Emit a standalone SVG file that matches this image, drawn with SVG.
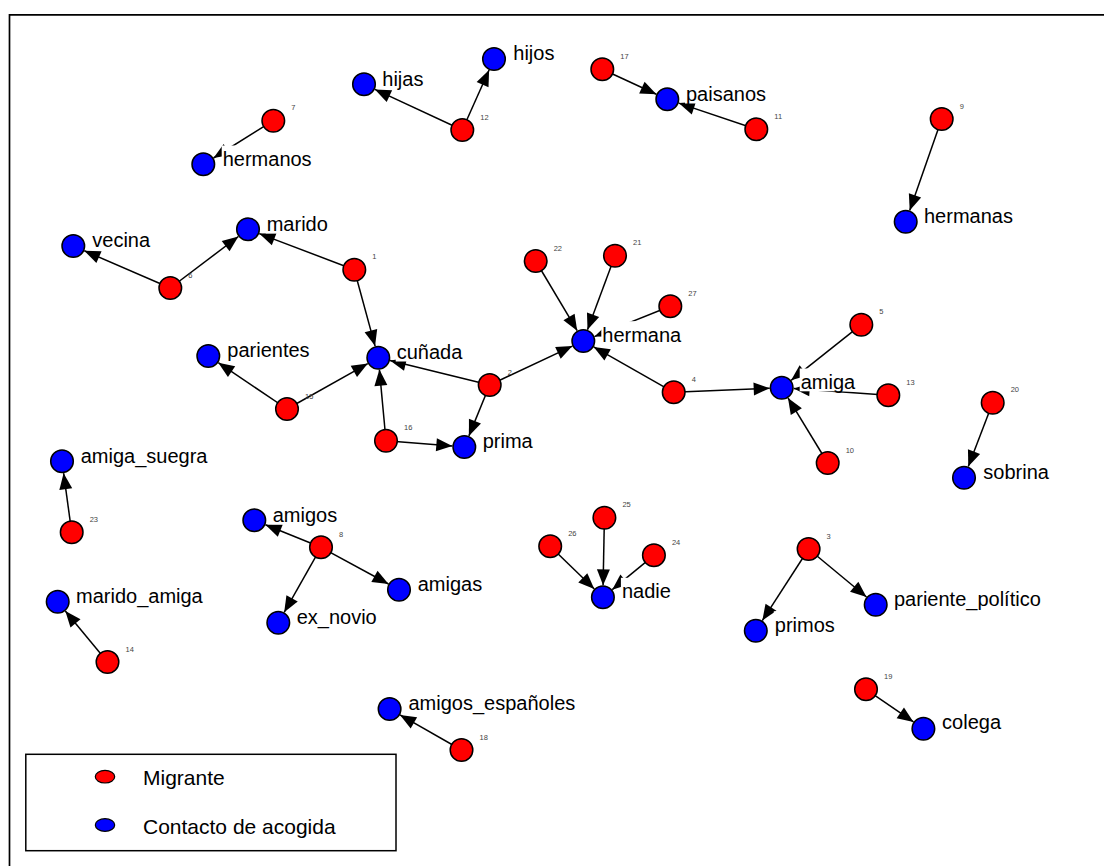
<svg xmlns="http://www.w3.org/2000/svg" width="1104" height="866" viewBox="0 0 1104 866">
<style>
.m{fill:#ff0000;stroke:#000;stroke-width:1.5}
.c{fill:#0000ff;stroke:#000;stroke-width:1.5}
.n{font-family:"Liberation Sans",Arial,sans-serif;font-size:7.5px;fill:#444}
.t{font-family:"Liberation Sans",Arial,sans-serif;font-size:20px;fill:#000}
.bx{fill:#fff;stroke:none}
.lg{font-family:"Liberation Sans",Arial,sans-serif;font-size:21px;fill:#000}
#edges line{stroke:#000;stroke-width:1.5;marker-end:url(#arr)}
</style>
<defs>
<marker id="arr" markerUnits="userSpaceOnUse" markerWidth="16" markerHeight="13" refX="16" refY="6.5" orient="auto" overflow="visible"><path d="M0,0L16,6.5L0,13z" fill="#000"/></marker>
</defs>
<rect width="1104" height="866" fill="#fff"/>
<path d="M9.5,866V14.8H1104" fill="none" stroke="#000" stroke-width="1.7"/>
<g id="edges">
<line x1="273.3" y1="120.7" x2="213.5" y2="158.0"/>
<line x1="462.3" y1="130" x2="374.9" y2="89.4"/>
<line x1="462.3" y1="130" x2="489.1" y2="70.0"/>
<line x1="602.3" y1="69.3" x2="656.4" y2="94.3"/>
<line x1="756.3" y1="129.3" x2="678.7" y2="103.1"/>
<line x1="941.7" y1="119" x2="909.7" y2="210.4"/>
<line x1="170.3" y1="288" x2="84.3" y2="250.8"/>
<line x1="170.3" y1="288" x2="238.4" y2="236.5"/>
<line x1="354.3" y1="269.7" x2="259.2" y2="233.6"/>
<line x1="354.3" y1="269.7" x2="375.1" y2="346.1"/>
<line x1="287" y1="409" x2="218.3" y2="362.7"/>
<line x1="287" y1="409" x2="367.8" y2="363.6"/>
<line x1="386" y1="440.7" x2="379.4" y2="369.6"/>
<line x1="386" y1="440.7" x2="452.3" y2="446.0"/>
<line x1="489.7" y1="385" x2="390.0" y2="360.6"/>
<line x1="489.7" y1="385" x2="468.9" y2="435.9"/>
<line x1="489.7" y1="385" x2="572.4" y2="346.1"/>
<line x1="535.7" y1="261" x2="577.2" y2="330.7"/>
<line x1="615" y1="255.7" x2="587.5" y2="329.8"/>
<line x1="670.3" y1="306.3" x2="594.4" y2="336.6"/>
<line x1="673.7" y1="392.3" x2="593.7" y2="346.9"/>
<line x1="673.7" y1="392.3" x2="769.7" y2="388.2"/>
<line x1="861.3" y1="324.7" x2="791.1" y2="380.3"/>
<line x1="888.3" y1="395.3" x2="793.7" y2="388.6"/>
<line x1="827.7" y1="463" x2="788.0" y2="397.9"/>
<line x1="992.7" y1="402.7" x2="968.3" y2="466.5"/>
<line x1="71.7" y1="532.3" x2="63.6" y2="473.2"/>
<line x1="107.5" y1="662" x2="65.3" y2="611.0"/>
<line x1="321" y1="547.3" x2="265.4" y2="524.8"/>
<line x1="321" y1="547.3" x2="388.5" y2="584.0"/>
<line x1="321" y1="547.3" x2="284.2" y2="612.3"/>
<line x1="604.4" y1="517.7" x2="603.1" y2="585.3"/>
<line x1="550.2" y1="546.3" x2="594.3" y2="589.0"/>
<line x1="653.9" y1="555.3" x2="612.2" y2="589.7"/>
<line x1="808.6" y1="549" x2="762.3" y2="620.6"/>
<line x1="808.6" y1="549" x2="866.5" y2="597.0"/>
<line x1="866" y1="689.3" x2="913.5" y2="721.9"/>
<line x1="461.5" y1="750" x2="400.0" y2="714.9"/>
</g>
<g id="n1"><circle class="m" cx="354.3" cy="269.7" r="11.3"/><text class="n" x="372.3" y="259.2">1</text></g>
<g id="n2"><circle class="m" cx="489.7" cy="385" r="11.3"/><text class="n" x="507.7" y="374.5">2</text></g>
<g id="n3"><circle class="m" cx="808.6" cy="549" r="11.3"/><text class="n" x="826.6" y="538.5">3</text></g>
<g id="n4"><circle class="m" cx="673.7" cy="392.3" r="11.3"/><text class="n" x="691.7" y="381.8">4</text></g>
<g id="n5"><circle class="m" cx="861.3" cy="324.7" r="11.3"/><text class="n" x="879.3" y="314.2">5</text></g>
<g id="n6"><text class="n" x="188.3" y="277.5">6</text><circle class="m" cx="170.3" cy="288" r="11.3"/></g>
<g id="n7"><circle class="m" cx="273.3" cy="120.7" r="11.3"/><text class="n" x="291.3" y="110.2">7</text></g>
<g id="n8"><circle class="m" cx="321" cy="547.3" r="11.3"/><text class="n" x="339" y="536.8">8</text></g>
<g id="n9"><circle class="m" cx="941.7" cy="119" r="11.3"/><text class="n" x="959.7" y="108.5">9</text></g>
<g id="n10"><circle class="m" cx="827.7" cy="463" r="11.3"/><text class="n" x="845.7" y="452.5">10</text></g>
<g id="n11"><circle class="m" cx="756.3" cy="129.3" r="11.3"/><text class="n" x="774.3" y="118.8">11</text></g>
<g id="n12"><circle class="m" cx="462.3" cy="130" r="11.3"/><text class="n" x="480.3" y="119.5">12</text></g>
<g id="n13"><circle class="m" cx="888.3" cy="395.3" r="11.3"/><text class="n" x="906.3" y="384.8">13</text></g>
<g id="n14"><circle class="m" cx="107.5" cy="662" r="11.3"/><text class="n" x="125.5" y="651.5">14</text></g>
<g id="n15"><circle class="m" cx="287" cy="409" r="11.3"/><text class="n" x="305" y="398.5">15</text></g>
<g id="n16"><circle class="m" cx="386" cy="440.7" r="11.3"/><text class="n" x="404" y="430.2">16</text></g>
<g id="n17"><circle class="m" cx="602.3" cy="69.3" r="11.3"/><text class="n" x="620.3" y="58.8">17</text></g>
<g id="n18"><circle class="m" cx="461.5" cy="750" r="11.3"/><text class="n" x="479.5" y="739.5">18</text></g>
<g id="n19"><circle class="m" cx="866" cy="689.3" r="11.3"/><text class="n" x="884" y="678.8">19</text></g>
<g id="n20"><circle class="m" cx="992.7" cy="402.7" r="11.3"/><text class="n" x="1010.7" y="392.2">20</text></g>
<g id="n21"><circle class="m" cx="615" cy="255.7" r="11.3"/><text class="n" x="633" y="245.2">21</text></g>
<g id="n22"><circle class="m" cx="535.7" cy="261" r="11.3"/><text class="n" x="553.7" y="250.5">22</text></g>
<g id="n23"><circle class="m" cx="71.7" cy="532.3" r="11.3"/><text class="n" x="89.7" y="521.8">23</text></g>
<g id="n24"><circle class="m" cx="653.9" cy="555.3" r="11.3"/><text class="n" x="671.9" y="544.8">24</text></g>
<g id="n25"><circle class="m" cx="604.4" cy="517.7" r="11.3"/><text class="n" x="622.4" y="507.2">25</text></g>
<g id="n26"><circle class="m" cx="550.2" cy="546.3" r="11.3"/><text class="n" x="568.2" y="535.8">26</text></g>
<g id="n27"><circle class="m" cx="670.3" cy="306.3" r="11.3"/><text class="n" x="688.3" y="295.8">27</text></g>
<g id="hermanos"><rect class="bx" x="221.7" y="145.5" width="91" height="23"/><circle class="c" cx="203.3" cy="164.3" r="11.3"/><text class="t" x="222.7" y="166">hermanos</text></g>
<g id="hijas"><rect class="bx" x="381.3" y="65.5" width="43" height="23"/><circle class="c" cx="364" cy="84.3" r="11.3"/><text class="t" x="382.3" y="86">hijas</text></g>
<g id="hijos"><rect class="bx" x="512.3" y="39.5" width="43" height="23"/><circle class="c" cx="494" cy="59" r="11.3"/><text class="t" x="513.3" y="60">hijos</text></g>
<g id="paisanos"><rect class="bx" x="685" y="80.5" width="82" height="23"/><circle class="c" cx="667.3" cy="99.3" r="11.3"/><text class="t" x="686" y="101">paisanos</text></g>
<g id="hermanas"><rect class="bx" x="923" y="202.5" width="91" height="23"/><circle class="c" cx="905.7" cy="221.7" r="11.3"/><text class="t" x="924" y="223">hermanas</text></g>
<g id="vecina"><rect class="bx" x="91.3" y="226.8" width="60" height="23"/><circle class="c" cx="73.3" cy="246" r="11.3"/><text class="t" x="92.3" y="247.3">vecina</text></g>
<g id="marido"><rect class="bx" x="265.7" y="210.5" width="63" height="23"/><circle class="c" cx="248" cy="229.3" r="11.3"/><text class="t" x="266.7" y="231">marido</text></g>
<g id="parientes"><rect class="bx" x="226.3" y="336.5" width="84" height="23"/><circle class="c" cx="208.3" cy="356" r="11.3"/><text class="t" x="227.3" y="357">parientes</text></g>
<g id="cunada"><rect class="bx" x="395.7" y="338.5" width="68" height="23"/><circle class="c" cx="378.3" cy="357.7" r="11.3"/><text class="t" x="396.7" y="359">cuñada</text></g>
<g id="hermana"><rect class="bx" x="601.3" y="321.2" width="81" height="23"/><circle class="c" cx="583.3" cy="341" r="11.3"/><text class="t" x="602.3" y="342">hermana</text></g>
<g id="prima"><rect class="bx" x="481.7" y="427.8" width="52" height="23"/><circle class="c" cx="464.3" cy="447" r="11.3"/><text class="t" x="482.7" y="448.3">prima</text></g>
<g id="amiga"><rect class="bx" x="799.7" y="368.5" width="56" height="22.8"/><circle class="c" cx="781.7" cy="387.7" r="11.3"/><text class="t" x="800.7" y="389">amiga</text></g>
<g id="sobrina"><rect class="bx" x="982.3" y="458" width="68" height="23"/><circle class="c" cx="964" cy="477.7" r="11.3"/><text class="t" x="983.3" y="478.5">sobrina</text></g>
<g id="amiga_suegra"><rect class="bx" x="79.7" y="442.2" width="129" height="23"/><circle class="c" cx="62" cy="461.3" r="11.3"/><text class="t" x="80.7" y="462.7">amiga_suegra</text></g>
<g id="amigos"><rect class="bx" x="271.7" y="501.2" width="66" height="23"/><circle class="c" cx="254.3" cy="520.3" r="11.3"/><text class="t" x="272.7" y="521.7">amigos</text></g>
<g id="amigas"><rect class="bx" x="416.7" y="570.5" width="66" height="23"/><circle class="c" cx="399" cy="589.7" r="11.3"/><text class="t" x="417.7" y="591">amigas</text></g>
<g id="ex_novio"><rect class="bx" x="295.7" y="603.2" width="82" height="23"/><circle class="c" cx="278.3" cy="622.7" r="11.3"/><text class="t" x="296.7" y="623.7">ex_novio</text></g>
<g id="marido_amiga"><rect class="bx" x="75" y="582.2" width="129" height="23"/><circle class="c" cx="57.7" cy="601.7" r="11.3"/><text class="t" x="76" y="602.7">marido_amiga</text></g>
<g id="nadie"><rect class="bx" x="620.9" y="577.8" width="51" height="23"/><circle class="c" cx="602.9" cy="597.3" r="11.3"/><text class="t" x="621.9" y="598.3">nadie</text></g>
<g id="pariente_politico"><rect class="bx" x="893" y="585.2" width="149" height="23"/><circle class="c" cx="875.7" cy="604.7" r="11.3"/><text class="t" x="894" y="605.7">pariente_político</text></g>
<g id="primos"><rect class="bx" x="773.8" y="611.2" width="62" height="23"/><circle class="c" cx="755.8" cy="630.7" r="11.3"/><text class="t" x="774.8" y="631.7">primos</text></g>
<g id="colega"><rect class="bx" x="941.1" y="708.8" width="61" height="23"/><circle class="c" cx="923.4" cy="728.7" r="11.3"/><text class="t" x="942.1" y="729.3">colega</text></g>
<g id="amigos_espanoles"><rect class="bx" x="407.5" y="689.5" width="169" height="23"/><circle class="c" cx="389.6" cy="709" r="11.3"/><text class="t" x="408.5" y="710">amigos_españoles</text></g>
<g id="legend">
<rect x="25.8" y="754.3" width="370.2" height="96.4" fill="#fff" stroke="#000" stroke-width="1.5"/>
<ellipse cx="105" cy="776.7" rx="9.7" ry="6.3" fill="#ff0000" stroke="#000" stroke-width="1.2"/>
<text class="lg" x="143" y="785">Migrante</text>
<ellipse cx="105" cy="825" rx="9.7" ry="6.3" fill="#0000ff" stroke="#000" stroke-width="1.2"/>
<text class="lg" x="143" y="834">Contacto de acogida</text>
</g>
</svg>
